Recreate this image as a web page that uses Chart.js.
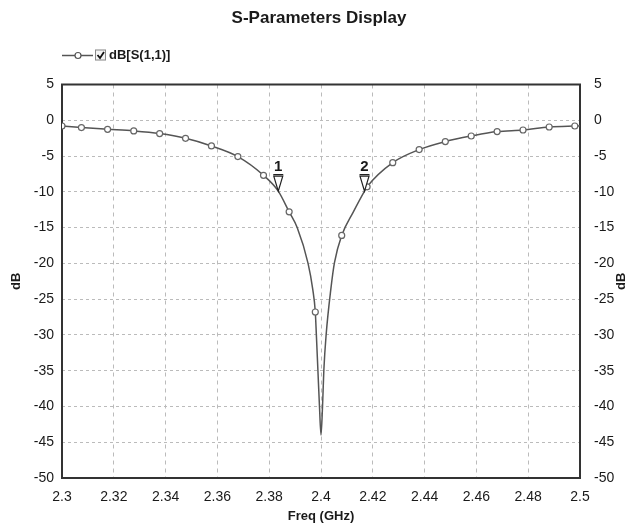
<!DOCTYPE html>
<html>
<head>
<meta charset="utf-8">
<script src="https://cdn.jsdelivr.net/npm/chart.js@4.4.1/dist/chart.umd.min.js"></script>
<style>
  html, body { margin: 0; padding: 0; background: #fff; }
  #wrap { width: 638px; height: 529px; }
</style>
</head>
<body>
<div id="wrap"><canvas id="grafico" width="638" height="529"></canvas></div>
<script>
// barrido (GHz, dB)
const sweepFreq = [2.3000, 2.3075, 2.3176, 2.3277, 2.3377, 2.3477, 2.3577, 2.3679, 2.3778, 2.3835,
                   2.3877, 2.3908, 2.3950, 2.3968, 2.3978, 2.3982, 2.3988, 2.3994, 2.4000, 2.4006,
                   2.4011, 2.4020, 2.4038, 2.4052, 2.4080, 2.4125, 2.4168, 2.4178, 2.4277, 2.4379,
                   2.4480, 2.4580, 2.4680, 2.4780, 2.4881, 2.4980, 2.5000];
const sweepDb = [-0.80, -1.02, -1.26, -1.49, -1.86, -2.52, -3.59, -5.08, -7.69, -9.9,
                 -12.8, -15.0, -20.0, -23.6, -26.8, -29.9, -34.9, -39.9, -44.0, -39.9,
                 -34.9, -29.9, -23.6, -19.9, -16.1, -12.8, -9.9, -9.3, -5.92, -4.10,
                 -2.98, -2.20, -1.58, -1.36, -0.94, -0.80, -0.78];
// puntos con simbolo
const symbolFreq = [2.3000, 2.3075, 2.3176, 2.3277, 2.3377, 2.3477, 2.3577, 2.3679, 2.3778, 2.3877,
                    2.3978, 2.4080, 2.4178, 2.4277, 2.4379, 2.4480, 2.4580, 2.4680, 2.4780, 2.4881, 2.4980];
// marcadores 1 y 2
const markerFreq = [2.3835, 2.4168];
const markerDb = [-9.9, -9.9];
const markerNames = ['1', '2'];

const xTicks = [2.3, 2.32, 2.34, 2.36, 2.38, 2.4, 2.42, 2.44, 2.46, 2.48, 2.5];
const xTickLabels = ['2.3', '2.32', '2.34', '2.36', '2.38', '2.4', '2.42', '2.44', '2.46', '2.48', '2.5'];
const yTicks = [5, 0, -5, -10, -15, -20, -25, -30, -35, -40, -45, -50];
const seriesName = 'dB[S(1,1)]';

const fam = '"Liberation Sans", Arial, sans-serif';
const txt = '#1a1a1a';
const lineCol = '#555';

const puntos = sweepFreq.map((f, i) => ({x: f, y: sweepDb[i]}));

const marco = {
    id: 'marco',
    beforeDatasetsDraw(chart) {
        const {ctx, chartArea: a} = chart;
        ctx.save();
        ctx.strokeStyle = '#333';
        ctx.lineWidth = 2;
        ctx.strokeRect(a.left, a.top, a.right - a.left, a.bottom - a.top);
        ctx.restore();
    }
};

const marcadores = {
    id: 'marcadores',
    afterDatasetsDraw(chart) {
        const {ctx, scales} = chart;
        ctx.save();
        markerFreq.forEach((f, i) => {
            const px = scales.x.getPixelForValue(f);
            const py = scales.y.getPixelForValue(markerDb[i]);
            ctx.beginPath();
            ctx.moveTo(px - 4.5, py - 15);
            ctx.lineTo(px + 4.5, py - 15);
            ctx.lineTo(px, py);
            ctx.closePath();
            ctx.fillStyle = '#fff';
            ctx.fill();
            ctx.strokeStyle = '#222';
            ctx.lineWidth = 1.2;
            ctx.stroke();
            ctx.beginPath();
            ctx.moveTo(px - 5, py - 16.5);
            ctx.lineTo(px + 5, py - 16.5);
            ctx.stroke();
            ctx.fillStyle = txt;
            ctx.font = 'bold 15px ' + fam;
            ctx.textAlign = 'center';
            ctx.textBaseline = 'alphabetic';
            ctx.fillText(markerNames[i], px, py - 20);
        });
        ctx.restore();
    }
};

const leyenda = {
    id: 'leyenda',
    afterDraw(chart) {
        const {ctx, chartArea: a, scales} = chart;
        const x0 = a.left;
        const y0 = a.top - 29;
        ctx.save();
        ctx.strokeStyle = lineCol;
        ctx.lineWidth = 1.5;
        ctx.beginPath();
        ctx.moveTo(x0, y0);
        ctx.lineTo(x0 + 31, y0);
        ctx.stroke();
        ctx.beginPath();
        ctx.arc(x0 + 16, y0, 3, 0, Math.PI * 2);
        ctx.fillStyle = '#fff';
        ctx.fill();
        ctx.lineWidth = 1.2;
        ctx.stroke();
        // casilla
        ctx.fillStyle = '#f4f4f4';
        ctx.fillRect(x0 + 33, y0 - 6, 11, 11);
        ctx.strokeStyle = '#888';
        ctx.lineWidth = 1;
        ctx.strokeRect(x0 + 33.5, y0 - 5.5, 10, 10);
        ctx.strokeStyle = '#111';
        ctx.lineWidth = 1.8;
        ctx.beginPath();
        ctx.moveTo(x0 + 35.5, y0 - 0.5);
        ctx.lineTo(x0 + 38, y0 + 2.5);
        ctx.lineTo(x0 + 42, y0 - 3.5);
        ctx.stroke();
        ctx.fillStyle = txt;
        ctx.font = 'bold 13px ' + fam;
        ctx.textAlign = 'left';
        ctx.textBaseline = 'middle';
        ctx.fillText(seriesName, x0 + 47, y0);
        // titulo eje derecho
        const s2 = scales.y2;
        ctx.translate(s2.right - 17, (a.top + a.bottom) / 2);
        ctx.rotate(-Math.PI / 2);
        ctx.font = 'bold 13px ' + fam;
        ctx.textAlign = 'center';
        ctx.textBaseline = 'middle';
        ctx.fillText('dB', 0, 0);
        ctx.restore();
    }
};

const ctx = document.getElementById('grafico').getContext('2d');
new Chart(ctx, {
    type: 'line',
    data: {
        datasets: [{
            label: seriesName,
            data: puntos,
            borderColor: lineCol,
            borderWidth: 1.5,
            cubicInterpolationMode: 'monotone',
            pointRadius: c => symbolFreq.includes(sweepFreq[c.dataIndex]) ? 3 : 0,
            pointBackgroundColor: '#fff',
            pointBorderColor: '#666',
            pointBorderWidth: 1.2,
            yAxisID: 'y'
        }]
    },
    options: {
        responsive: false,
        animation: false,
        plugins: {
            legend: {display: false},
            tooltip: {enabled: false},
            title: {
                display: true,
                text: 'S-Parameters Display',
                color: txt,
                font: {family: fam, size: 17, weight: 'bold'},
                padding: {top: 8, bottom: 56.1}
            }
        },
        scales: {
            x: {
                type: 'linear',
                min: 2.3,
                max: 2.5,
                afterBuildTicks: s => { s.ticks = xTicks.map(v => ({value: v})); },
                afterFit: s => { s.height = 51; },
                ticks: {
                    callback: (v, i) => xTickLabels[i],
                    color: txt,
                    font: {family: fam, size: 14},
                    padding: 11,
                    maxRotation: 0
                },
                grid: {color: '#bbb', drawTicks: false},
                border: {display: false, dash: [4, 4]},
                title: {
                    display: true,
                    text: 'Freq (GHz)',
                    color: txt,
                    font: {family: fam, size: 13, weight: 'bold'},
                    padding: {top: 0, bottom: 5}
                }
            },
            y: {
                min: -50,
                max: 5,
                afterBuildTicks: s => { s.ticks = yTicks.map(v => ({value: v})); },
                afterFit: s => { s.width = 62; },
                ticks: {color: txt, font: {family: fam, size: 14}, padding: 8},
                grid: {color: '#bbb', drawTicks: false},
                border: {display: false, dash: [3, 3]},
                title: {
                    display: true,
                    text: 'dB',
                    color: txt,
                    font: {family: fam, size: 13, weight: 'bold'},
                    padding: {top: 9}
                }
            },
            y2: {
                position: 'right',
                min: -50,
                max: 5,
                afterBuildTicks: s => { s.ticks = yTicks.map(v => ({value: v})); },
                afterFit: s => { s.width = 58; },
                ticks: {color: txt, font: {family: fam, size: 14}, padding: 14},
                grid: {display: false, drawTicks: false},
                border: {display: false}
            }
        }
    },
    plugins: [marco, marcadores, leyenda]
});
</script>
</body>
</html>
